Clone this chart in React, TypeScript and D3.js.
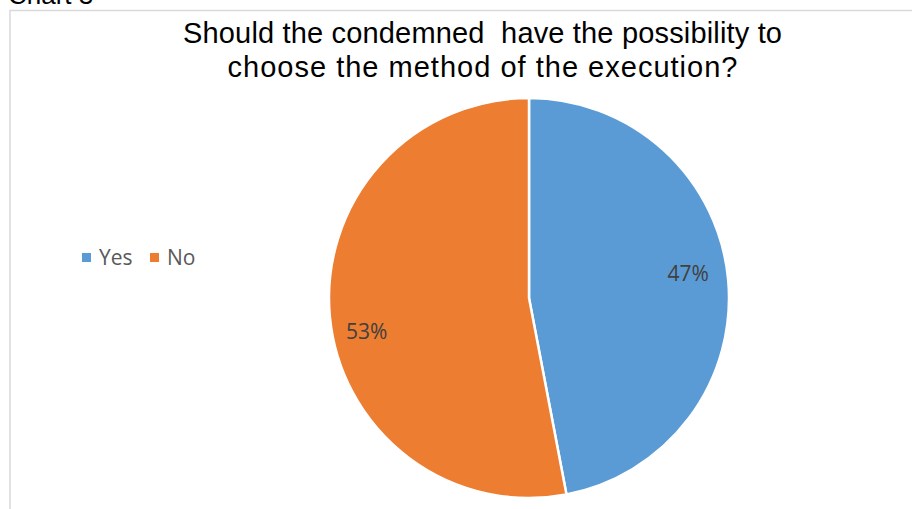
import React from "react";
import * as d3 from "d3";

const categories = ["Yes", "No"];
const values = [47, 53];
const colors = ["#5B9BD5", "#ED7D31"];
const titleLines = ["Should the condemned  have the possibility to", "choose the method of the execution?"];

export default function App() {
  const W = 912, H = 509;
  const cx = 529, cy = 298, r = 200;
  const pie = d3.pie<number>().sort(null).value((d) => d);
  const arcs = pie(values);
  const arc = d3.arc<d3.PieArcDatum<number>>().innerRadius(0).outerRadius(r);
  const labelArc = d3.arc<d3.PieArcDatum<number>>().innerRadius(r * 0.8).outerRadius(r * 0.8);
  const total = d3.sum(values);
  const nudge = [[0, -2], [-3, 26]];
  const titleWidths = [599, 510];
  return (
    <svg width={W} height={H} style={{ position: "absolute", left: 0, top: 0 }}>
      <rect x={0} y={0} width={W} height={H} fill="#fff" />
      <text x={8} y={4} fontFamily="Liberation Sans, Arial" fontSize={26} fill="#000">Chart 3</text>
      <path d={`M10,${H} V10.5 H${W}`} fill="none" stroke="#d9d9d9" strokeWidth={1.5} />
      {titleLines.map((t, i) => (
        <text key={i} x={482.5 - titleWidths[i] / 2} y={43 + i * 34} textLength={titleWidths[i]} lengthAdjust="spacing" fontFamily="Liberation Sans, Arial" fontSize={29} fill="#000" style={{ whiteSpace: "pre" }}>{t}</text>
      ))}
      <g transform={`translate(${cx},${cy})`}>
        {arcs.map((a, i) => (
          <path key={i} d={arc(a) || ""} fill={colors[i]} stroke="#fff" strokeWidth={2.5} />
        ))}
        {arcs.map((a, i) => {
          const [x, y] = labelArc.centroid(a);
          return (
            <text key={"l" + i} x={x + nudge[i][0]} y={y + nudge[i][1]} textAnchor="middle" fontFamily="Open Sans, Liberation Sans" fontSize={21} fill="#404040">
              {Math.round((a.data / total) * 100)}%
            </text>
          );
        })}
      </g>
      {categories.map((c, i) => (
        <g key={c} transform={`translate(${82 + i * 68},253)`}>
          <rect x={0} y={0} width={9} height={9} fill={colors[i]} />
          <text x={17} y={12} fontFamily="Open Sans, Liberation Sans" fontSize={21} fill="#595959">{c}</text>
        </g>
      ))}
    </svg>
  );
}
